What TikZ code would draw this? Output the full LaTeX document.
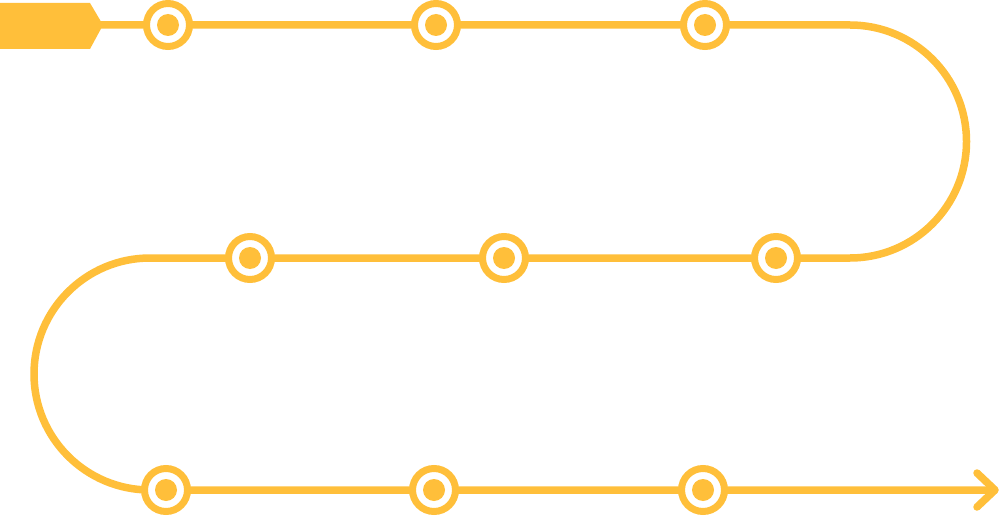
\documentclass[tikz,border=0pt]{standalone}
\usetikzlibrary{backgrounds}
\definecolor{amber}{HTML}{FFBF3A}
\tikzset{
  track/.style={draw=amber, line width=7.5pt, line join=round},
  station/.style={circle, draw=amber, fill=white, line width=7pt, minimum size=43pt, inner sep=0pt,
    path picture={\fill[amber] (path picture bounding box.center) circle (11pt);}},
}
\begin{document}
\begin{tikzpicture}[x=1pt,y=1pt]
\useasboundingbox (0,0) rectangle (999,-516);
% start tag
\fill[amber] (0,-3) -- (90,-3) -- (103,-25) -- (90,-49) -- (0,-49) -- cycle;
\coordinate (tag) at (100,-25);
% stations
\node[station] (s1) at (168,-25) {};
\node[station] (s2) at (436,-25) {};
\node[station] (s3) at (705,-25) {};
\node[station] (s4) at (776,-258) {};
\node[station] (s5) at (504,-258) {};
\node[station] (s6) at (250,-258) {};
\node[station] (s7) at (166,-490) {};
\node[station] (s8) at (434,-490) {};
\node[station] (s9) at (703,-490) {};
\coordinate (end) at (995,-490);
\begin{scope}[on background layer]
\draw[track] (tag) -- (s1.center) -- (s2.center) -- (s3.center) -- (850,-25)
  arc[start angle=90, end angle=-90, radius=116.5] -- (s4.center) -- (s5.center) -- (s6.center) -- (150,-258)
  arc[start angle=90, end angle=270, radius=116] -- (s7.center) -- (s8.center) -- (s9.center) -- ([xshift=-4pt]end);
\end{scope}
\draw[track, line cap=round] ([shift={(-18,17)}]end) -- (end) -- ([shift={(-18,-17)}]end);
\end{tikzpicture}
\end{document}
